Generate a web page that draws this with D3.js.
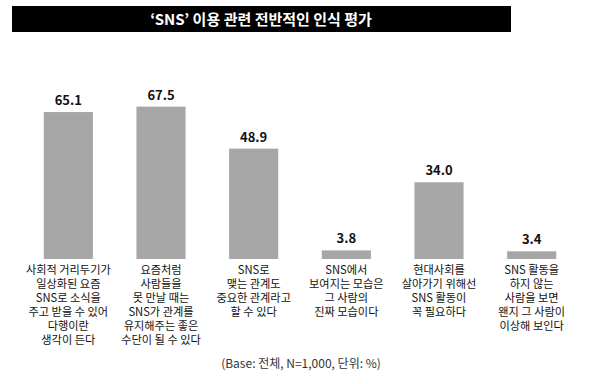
<!DOCTYPE html>
<html><head><meta charset="utf-8">
<script src="https://cdn.jsdelivr.net/npm/d3@7"></script>
<style>
html,body{margin:0;padding:0;background:#fff;}
svg{display:block;font-family:"Noto Sans CJK KR","Noto Sans",sans-serif;}
</style></head>
<body><svg id="c" width="600" height="384"></svg>
<script>
const title = "‘SNS’ 이용 관련 전반적인 인식 평가";
const categories = [
  ["사회적 거리두기가","일상화된 요즘","SNS로 소식을","주고 받을 수 있어","다행이란","생각이 든다"],
  ["요즘처럼","사람들을","못 만날 때는","SNS가 관계를","유지해주는 좋은","수단이 될 수 있다"],
  ["SNS로","맺는 관계도","중요한 관계라고","할 수 있다"],
  ["SNS에서","보여지는 모습은","그 사람의","진짜 모습이다"],
  ["현대사회를","살아가기 위해선","SNS 활동이","꼭 필요하다"],
  ["SNS 활동을","하지 않는","사람을 보면","왠지 그 사람이","이상해 보인다"]
];
const values = [65.1, 67.5, 48.9, 3.8, 34.0, 3.4];
const footnote = "(Base: 전체, N=1,000, 단위: %)";

const svg = d3.select("#c");
const x = d3.scaleBand().domain(d3.range(values.length)).range([22,578]).paddingInner(0.47).paddingOuter(0.235);
const y = d3.scaleLinear().domain([0,70]).range([259, 259-158]);

// title bar
svg.append("rect").attr("x",12).attr("y",6).attr("width",499).attr("height",26).attr("fill","#000");
svg.append("text").attr("x",261).attr("y",24.5).attr("text-anchor","middle")
  .attr("fill","#fff").attr("font-size",15).attr("font-weight","bold").text(title);

// bars
svg.selectAll("rect.bar").data(values).join("rect").attr("class","bar")
  .attr("x",(d,i)=>x(i)).attr("width",x.bandwidth())
  .attr("y",d=>y(d)).attr("height",d=>y(0)-y(d)).attr("fill","#a6a6a6");

// value labels
svg.selectAll("text.val").data(values).join("text").attr("class","val")
  .attr("x",(d,i)=>x(i)+x.bandwidth()/2).attr("y",d=>y(d)-7)
  .attr("text-anchor","middle").attr("font-size",13).attr("font-weight","bold")
  .attr("fill","#111").text(d=>d.toFixed(1));

// category labels
categories.forEach((lines,i)=>{
  const t = svg.append("text").attr("text-anchor","middle").attr("font-size",11.2)
    .attr("fill","#111");
  lines.forEach((ln,j)=>{
    t.append("tspan").attr("x",x(i)+x.bandwidth()/2).attr("y",274+j*14).text(ln);
  });
});

svg.append("text").attr("x",301).attr("y",367.5).attr("text-anchor","middle")
  .attr("font-size",12).attr("fill","#333").text(footnote);
</script></body></html>
